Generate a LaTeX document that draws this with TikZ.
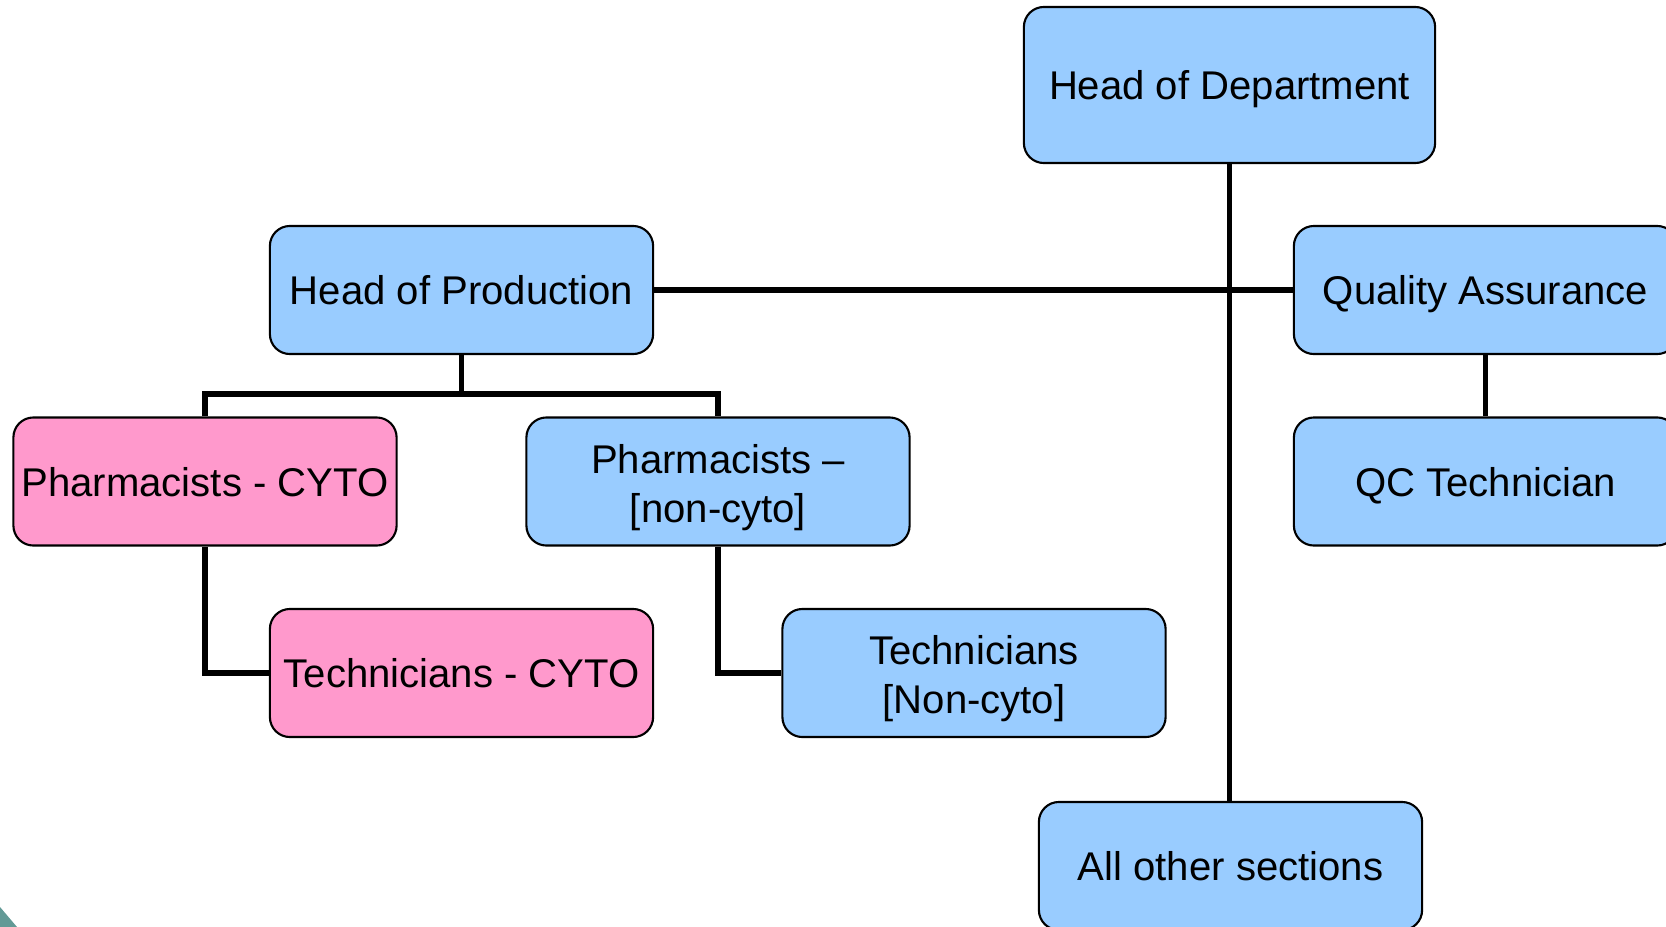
\documentclass[tikz,border=0pt]{standalone}
\usepackage{fontspec}
\setmainfont{Liberation Sans}
\usepackage{tikz}
\usetikzlibrary{positioning}
\definecolor{bleuclair}{RGB}{153,204,255}
\definecolor{rose}{RGB}{255,153,204}
\definecolor{sarcelle}{RGB}{98,154,150}
\tikzset{
  poste/.style={draw=black, line width=0.6pt, fill=bleuclair, rounded corners=0.2cm,
    minimum width=3.83cm, minimum height=1.28cm, inner sep=0pt, align=center,
    text height=9.4pt, text depth=1pt,
    font=\fontsize{11.4}{13.9}\selectfont},
  deuxlignes/.style={text height=24.2pt, text depth=1pt},
  cyto/.style={poste, fill=rose},
  lien/.style={line width=1.5pt}
}
\begin{document}
\begin{tikzpicture}[x=0.01cm, y=-0.01cm]
\useasboundingbox (0,0) rectangle (1666,927);
\clip (0,0) rectangle (1666,927);
% coin sarcelle
\fill[sarcelle] (0,907) -- (17,927) -- (0,927) -- cycle;
% postes
\node[poste, minimum width=4.11cm, minimum height=1.56cm] (hod) at (1229.5,85) {Head of Department};
\node[poste] (hop) at (461.5,290) {Head of Production};
\node[poste] (qa) at (1485.5,290) {Quality Assurance};
\node[poste] (qc) at (1485.5,481.5) {QC Technician};
\node[cyto] (pcyto) at (205,481.5) {Pharmacists - CYTO};
\node[poste, deuxlignes] (pnon) at (718,481.5) {Pharmacists --\\{}[non-cyto]};
\node[cyto] (tcyto) at (461.5,673) {Technicians - CYTO};
\node[poste, deuxlignes] (tnon) at (974,673) {Technicians\\{}[Non-cyto]};
\node[poste] (other) at (1230.5,866) {All other sections};
% liens
\coordinate (split) at (461.5,394);
\begin{scope}[lien]
    \draw (hod.south) -- (hod.south |- other.north);
    \draw (hop.east) -- (qa.west);
    \draw (hop.south) -- (split);
    \draw (pcyto.north) |- (split) -| (pnon.north);
    \draw (pcyto.south) |- (tcyto.west);
    \draw (pnon.south) |- (tnon.west);
    \draw (qa.south) -- (qc.north);
\end{scope}
\end{tikzpicture}
\end{document}
